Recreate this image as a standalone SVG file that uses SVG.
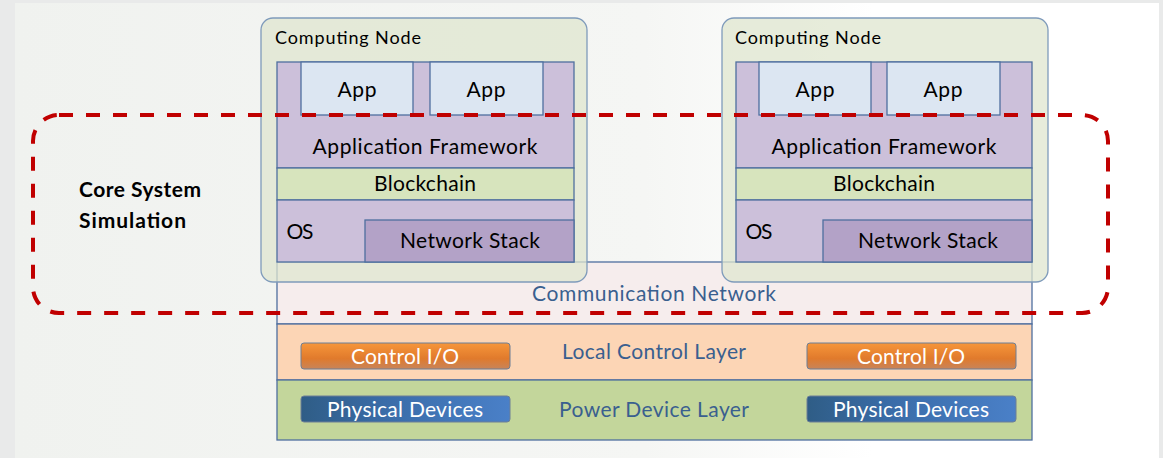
<svg xmlns="http://www.w3.org/2000/svg" width="1163" height="458" viewBox="0 0 1163 458">
<defs>
<linearGradient id="bg" x1="0" y1="0" x2="1" y2="0">
<stop offset="0" stop-color="#f0f2ef"/>
<stop offset="0.55" stop-color="#f5f6f4"/>
<stop offset="0.75" stop-color="#ffffff"/>
<stop offset="1" stop-color="#ffffff"/>
</linearGradient>
<linearGradient id="org" x1="0" y1="0" x2="0" y2="1">
<stop offset="0" stop-color="#f7963a"/>
<stop offset="0.6" stop-color="#e07a2c"/>
<stop offset="1" stop-color="#c8845a"/>
</linearGradient>
<linearGradient id="blu" x1="0" y1="0" x2="1" y2="0">
<stop offset="0" stop-color="#2f5d86"/>
<stop offset="0.4" stop-color="#3a6ca8"/>
<stop offset="1" stop-color="#4a80c8"/>
</linearGradient>
<style>
.lbl{font-family:Lato,"Liberation Sans",sans-serif;font-size:21px;fill:#000;text-anchor:middle}
.node-title{font-family:Lato,"Liberation Sans",sans-serif;font-size:18px;fill:#000}
.layer-txt{font-family:Lato,"Liberation Sans",sans-serif;font-size:21px;fill:#3a5f8f;text-anchor:middle}
.btn-txt{font-family:Lato,"Liberation Sans",sans-serif;font-size:21px;fill:#fff;text-anchor:middle}
.node-box{fill:#dfe5cf;fill-opacity:0.75;stroke:#7f9bbb;stroke-width:1.3}
.purple{fill:#ccc0da;stroke:#4f6f9f;stroke-width:1.3}
.netstack{fill:#b3a2c7;stroke:#4f6f9f;stroke-width:1.3}
.app{fill:#dce6f2;stroke:#4f6f9f;stroke-width:1.3}
.chain{fill:#d7e4bd;stroke:#4f6f9f;stroke-width:1.3}
.layer{stroke:#4f6f9f;stroke-width:1.3}
.btn{stroke:#6d7f96;stroke-width:1}
.dash{fill:none;stroke:#c00000;stroke-width:4;stroke-dasharray:14 13}
</style>
</defs>
<rect x="0" y="0" width="1163" height="458" fill="#e9eaea"/>
<rect x="15" y="3" width="1144" height="455" fill="url(#bg)"/>

<g id="layers">
<g id="comm-network">
<rect class="layer" x="277" y="262" width="755" height="62" fill="#f6eded"/>
<text class="layer-txt" x="654" y="301" textLength="244">Communication Network</text>
</g>
<g id="local-control-layer">
<rect class="layer" x="277" y="324" width="755" height="56" fill="#fcd5b5"/>
<text class="layer-txt" x="654" y="359" textLength="184">Local Control Layer</text>
</g>
<g id="power-device-layer">
<rect class="layer" x="277" y="380" width="755" height="60" fill="#c3d69b"/>
<text class="layer-txt" x="654" y="417" textLength="190">Power Device Layer</text>
</g>
<g id="control-io-1">
<rect class="btn" x="301" y="343" width="209" height="26" rx="3" fill="url(#org)"/>
<text class="btn-txt" x="405" y="364" textLength="108">Control I/O</text>
</g>
<g id="control-io-2">
<rect class="btn" x="807" y="343" width="209" height="26" rx="3" fill="url(#org)"/>
<text class="btn-txt" x="911" y="364" textLength="108">Control I/O</text>
</g>
<g id="physical-devices-1">
<rect class="btn" x="301" y="396" width="209" height="26" rx="3" fill="url(#blu)"/>
<text class="btn-txt" x="405" y="417" textLength="156">Physical Devices</text>
</g>
<g id="physical-devices-2">
<rect class="btn" x="807" y="396" width="209" height="26" rx="3" fill="url(#blu)"/>
<text class="btn-txt" x="911" y="417" textLength="156">Physical Devices</text>
</g>
</g>

<g id="computing-node-1">
<rect class="node-box" x="261" y="18" width="326" height="264" rx="12"/>
<text class="node-title" x="275" y="44" textLength="146">Computing Node</text>
<rect class="purple" x="277" y="62" width="297" height="106"/>
<rect class="app" x="301" y="62" width="112" height="53"/>
<text class="lbl" x="357" y="97" textLength="39">App</text>
<rect class="app" x="430" y="62" width="113" height="53"/>
<text class="lbl" x="486" y="97" textLength="39">App</text>
<text class="lbl" x="425" y="154" textLength="225">Application Framework</text>
<rect class="chain" x="277" y="168" width="297" height="32"/>
<text class="lbl" x="425" y="191" textLength="102">Blockchain</text>
<rect class="purple" x="277" y="200" width="297" height="62"/>
<text class="lbl" x="300" y="239" textLength="27">OS</text>
<rect class="netstack" x="365" y="220" width="209" height="42"/>
<text class="lbl" x="470" y="248" textLength="140">Network Stack</text>
</g>

<g id="computing-node-2">
<rect class="node-box" x="722" y="18" width="326" height="264" rx="12"/>
<text class="node-title" x="735" y="44" textLength="146">Computing Node</text>
<rect class="purple" x="736" y="62" width="296" height="106"/>
<rect class="app" x="759" y="62" width="112" height="53"/>
<text class="lbl" x="815" y="97" textLength="39">App</text>
<rect class="app" x="887" y="62" width="113" height="53"/>
<text class="lbl" x="943" y="97" textLength="39">App</text>
<text class="lbl" x="884" y="154" textLength="225">Application Framework</text>
<rect class="chain" x="736" y="168" width="296" height="32"/>
<text class="lbl" x="884" y="191" textLength="102">Blockchain</text>
<rect class="purple" x="736" y="200" width="296" height="62"/>
<text class="lbl" x="759" y="239" textLength="27">OS</text>
<rect class="netstack" x="823" y="220" width="209" height="42"/>
<text class="lbl" x="928" y="248" textLength="140">Network Stack</text>
</g>

<g id="core-system-simulation">
<rect class="dash" x="33" y="115" width="1075" height="198" rx="26"/>
<text x="79" y="197" font-family="Lato,'Liberation Sans',sans-serif" font-size="21" font-weight="bold" fill="#000" textLength="122">Core System</text>
<text x="79" y="228" font-family="Lato,'Liberation Sans',sans-serif" font-size="21" font-weight="bold" fill="#000" textLength="107">Simulation</text>
</g>

<g id="connectors"></g>
</svg>
